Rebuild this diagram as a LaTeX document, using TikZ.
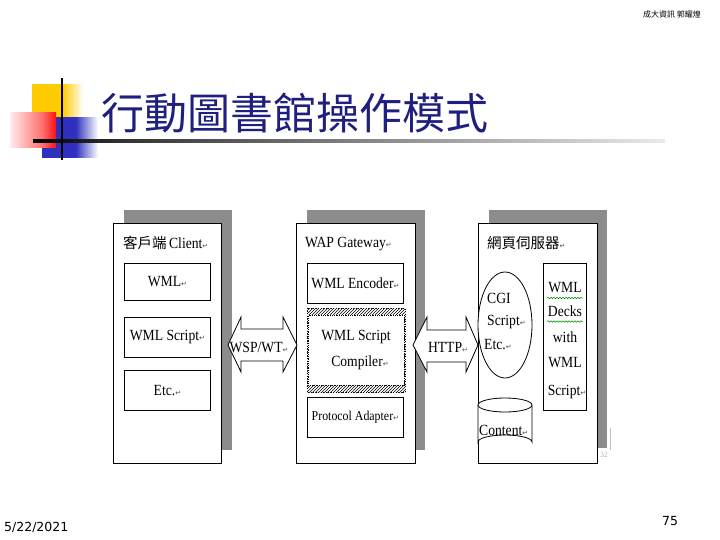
\documentclass[tikz,border=0pt]{standalone}
\usepackage{fontspec}
\setmainfont{Liberation Serif}[FakeStretch=0.88]
\newfontfamily\cjk{Noto Sans CJK TC}
\newfontfamily\dv{DejaVu Sans}
\usetikzlibrary{patterns,decorations.pathmorphing}
\definecolor{navy}{HTML}{1F1F80}
\definecolor{shadowgray}{HTML}{8C8C8C}
\definecolor{yel}{HTML}{FFCC00}
\definecolor{blu}{HTML}{3030C0}
\definecolor{rd}{HTML}{FF1010}
\pgfdeclarehorizontalshading{yelfade}{100bp}{color(0bp)=(yel); color(55bp)=(yel); color(75bp)=(white); color(100bp)=(white)}
\pgfdeclarehorizontalshading{blufade}{100bp}{color(0bp)=(blu); color(55bp)=(blu); color(75bp)=(white); color(100bp)=(white)}
\pgfdeclarehorizontalshading{redfade}{100bp}{color(0bp)=(white); color(25bp)=(rd!8); color(60bp)=(rd!60); color(75bp)=(rd); color(100bp)=(rd)}
\pgfdeclarehorizontalshading{linefade}{100bp}{color(0bp)=(black); color(25bp)=(black); color(32bp)=(black!80); color(75bp)=(black!8); color(100bp)=(black!8)}
\newcommand{\rt}{{\dv\fontsize{7}{7}\selectfont\color{black!70}↵}}
\tikzset{
  shadowbox/.style={fill=shadowgray},
  panel/.style={draw=black, fill=white, line width=0.8pt},
  inbox/.style={draw=black, fill=white, line width=0.8pt, anchor=north west, inner sep=0pt},
  lbl/.style={font=\fontsize{15.5}{17}\selectfont, inner sep=0pt},
  cjklbl/.style={font=\cjk\fontsize{14.5}{16}\selectfont, inner sep=0pt},
  bigarrow/.style={draw=black, fill=white, line width=0.8pt, line join=miter},
}
\begin{document}
\begin{tikzpicture}[x=1pt, y=-1pt]
\useasboundingbox (0,0) rectangle (720,540);
\fill[white] (0,0) rectangle (720,540);

% header text
\node[font=\cjk\fontsize{8}{9}\selectfont, inner sep=0pt] (author) at (672,14) {成大資訊 郭耀煌};

% decoration
\shade[shading=yelfade] (32,85) rectangle (83,118);
\shade[shading=blufade] (42,118) rectangle (98,158);
\shade[shading=redfade] (10,113) rectangle (56,148);
\shade[shading=linefade] (33,139.8) rectangle (665,142.6);
\draw[line width=2.6pt] (62,78) -- (62,160);

% title
\node[anchor=west, font=\cjk\fontsize{43}{46}\selectfont, text=navy, inner sep=0pt] (title) at (101,113) {行動圖書館操作模式};

% ---------- panel 1: client
\fill[shadowbox] (124,210) rectangle (232,450);
\draw[panel] (113,223) rectangle (221,463);
\node[cjklbl, anchor=west] (clientlbl) at (123,243) {客戶端\,{\fontsize{15.5}{17}\selectfont\rmfamily Client}\rt};
\node[inbox, minimum width=86pt, minimum height=37pt, lbl] (wml) at (124,263) {WML\rt};
\node[inbox, minimum width=86pt, minimum height=40pt, lbl] (wmls) at (124,317) {WML Script\rt};
\node[inbox, minimum width=86pt, minimum height=40pt, lbl] (etc1) at (124,370) {Etc.\rt};

% ---------- panel 2: gateway
\fill[shadowbox] (307,210) rectangle (425,450);
\draw[panel] (296,223) rectangle (415,463);
\node[lbl, anchor=west] (gwlbl) at (305,244) {WAP Gateway\rt};
\node[inbox, minimum width=96pt, minimum height=40pt, lbl] (enc) at (307,263) {WML Encoder\rt};
\fill[pattern=north east lines] (307,308) rectangle (405,392);
\draw[black, line width=0.5pt, dotted] (307,308) rectangle (405,392);
\node[inbox, draw=black, densely dotted, minimum width=96pt, minimum height=70pt] (comp) at (308,315) {};
\node[lbl] (comp1) at (356,337) {WML Script};
\node[lbl] (comp2) at (360,363) {Compiler\rt};
\node[inbox, minimum width=96pt, minimum height=40pt, font=\fontsize{13.5}{15}\selectfont] (adapt) at (307,397) {Protocol Adapter\rt};

% ---------- panel 3: web server
\fill[shadowbox] (489,210) rectangle (607,448);
\draw[panel] (478,223) rectangle (597,463);
\node[cjklbl, anchor=west] (srvlbl) at (487,243) {網頁伺服器\rt};
\draw[line width=0.8pt, fill=white] (505,325) ellipse [x radius=27, y radius=53];
\node[lbl, anchor=west] (cgi1) at (487,298) {CGI};
\node[lbl, anchor=west] (cgi2) at (487,322) {Script\rt};
\node[lbl, anchor=west] (cgi3) at (484,345) {Etc.\rt};
\node[inbox, minimum width=43pt, minimum height=147pt] (decks) at (543,263) {};
\node[lbl] (d1) at (565,288) {WML};
\node[lbl] (d2) at (565,311) {Decks};
\node[lbl] (d3) at (565,337) {with};
\node[lbl] (d4) at (565,363) {WML};
\node[lbl] (d5) at (567,392) {Script\rt};
\draw[green!55!black, line width=0.5pt, decorate, decoration={snake, amplitude=0.8pt, segment length=3pt}] (547,298) -- (583,298);
\draw[green!55!black, line width=0.5pt, decorate, decoration={snake, amplitude=0.8pt, segment length=3pt}] (547,321.5) -- (583,321.5);
% cylinder
\fill[white] (478,405) -- (478,442) arc[start angle=180, end angle=360, x radius=27, y radius=7] -- (532,405) -- cycle;
\draw[line width=0.8pt] (478,405) -- (478,442) arc[start angle=180, end angle=360, x radius=27, y radius=7] -- (532,405);
\draw[line width=0.8pt, fill=white] (505,405) ellipse [x radius=27, y radius=7];
\node[lbl, anchor=west] (content) at (479,430) {Content\rt};
% faint artefacts
\draw[black!25, line width=0.5pt] (610,428) -- (610,450);
\node[font=\fontsize{8}{9}\selectfont, text=black!30, inner sep=0pt] (faint) at (604,455) {32};

% ---------- double arrows
\draw[bigarrow] (228,345) -- (241,317) -- (241,329) -- (283,329) -- (283,317) -- (297,345)
  -- (283,372) -- (283,361) -- (241,361) -- (241,372) -- cycle;
\node[lbl] (wsp) at (259,347) {WSP/WT\rt};
\draw[bigarrow] (413,345) -- (427,317) -- (427,330) -- (466,330) -- (466,317) -- (478,345)
  -- (466,372) -- (466,362) -- (427,362) -- (427,372) -- cycle;
\node[lbl] (http) at (448,347) {HTTP\rt};

% footer
\node[anchor=west, font=\dv\fontsize{12.5}{14}\selectfont, inner sep=0pt] (date) at (4,527) {5/22/2021};
\node[font=\dv\fontsize{12.5}{14}\selectfont, inner sep=0pt] (page) at (670,521) {75};
\end{tikzpicture}
\end{document}
